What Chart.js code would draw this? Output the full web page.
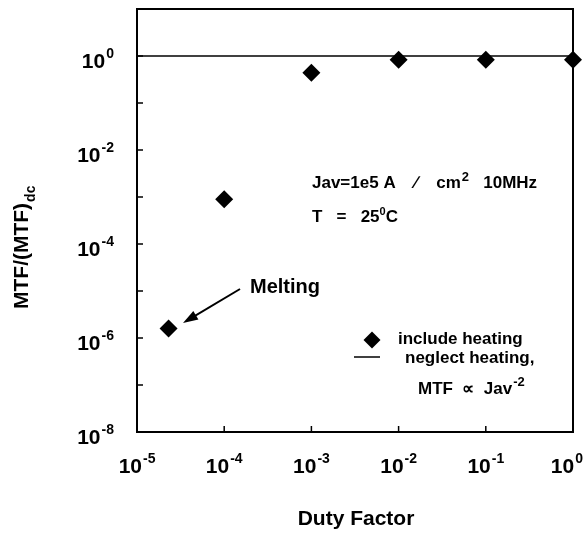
<!DOCTYPE html>
<html>
<head>
<meta charset="utf-8">
<title>MTF vs Duty Factor</title>
<script src="https://cdn.jsdelivr.net/npm/chart.js@4"></script>
<style>
    body { margin: 0; background: #fff; }
    #wrap { width: 585px; height: 536px; }
</style>
</head>
<body>
<div id="wrap"><canvas id="mtfChart" width="585" height="536"></canvas></div>
<script>
// Values
const dutyFactor = [2.3e-5, 1e-4, 1e-3, 1e-2, 1e-1, 1];
const mtfIncludeHeating = [1.6e-6, 9e-4, 0.44, 0.83, 0.83, 0.83];
const neglectDuty = [1e-5, 1];
const mtfNeglectHeating = [1, 1];

// Tick decades
const xTickExps = [-5, -4, -3, -2, -1, 0];
const yTickExps = [1, 0, -1, -2, -3, -4, -5, -6, -7, -8];
const yLabelExps = [0, -2, -4, -6, -8];

const FONT = '"Liberation Sans", Arial, sans-serif';

// Draw text pieces (base + raised/lowered parts), returns end x
function drawPieces(ctx, x, y, pieces) {
    let cx = x;
    pieces.forEach(p => {
        ctx.font = `bold ${p.size}px ${FONT}`;
        ctx.fillText(p.text, cx + (p.dx || 0), y + (p.dy || 0));
        cx += ctx.measureText(p.text).width + (p.dx || 0);
    });
    return cx;
}

function piecesWidth(ctx, pieces) {
    let w = 0;
    pieces.forEach(p => {
        ctx.font = `bold ${p.size}px ${FONT}`;
        w += ctx.measureText(p.text).width + (p.dx || 0);
    });
    return w;
}

function powPieces(exp) {
    return [
        { text: '10', size: 21 },
        { text: String(exp), size: 14, dy: -10, dx: 1 }
    ];
}

function diamond(ctx, x, y, r) {
    ctx.beginPath();
    ctx.moveTo(x, y - r);
    ctx.lineTo(x + r, y);
    ctx.lineTo(x, y + r);
    ctx.lineTo(x - r, y);
    ctx.closePath();
    ctx.fill();
}

// Frame, inward ticks, tick labels, titles and annotations
const decorPlugin = {
    id: 'decor',
    afterDraw(chart) {
        const ctx = chart.ctx;
        const area = chart.chartArea;
        const xs = chart.scales.x;
        const ys = chart.scales.y;
        ctx.save();
        ctx.fillStyle = '#000';
        ctx.strokeStyle = '#000';

        // frame
        ctx.lineWidth = 2;
        ctx.strokeRect(area.left, area.top, area.right - area.left, area.bottom - area.top);

        // inward ticks
        ctx.lineWidth = 1.5;
        ctx.beginPath();
        xTickExps.forEach(e => {
            const px = xs.getPixelForValue(Math.pow(10, e));
            ctx.moveTo(px, area.bottom);
            ctx.lineTo(px, area.bottom - 6);
        });
        yTickExps.forEach(e => {
            const py = ys.getPixelForValue(Math.pow(10, e));
            ctx.moveTo(area.left, py);
            ctx.lineTo(area.left + 6, py);
        });
        ctx.stroke();

        // x tick labels
        ctx.textBaseline = 'alphabetic';
        ctx.textAlign = 'left';
        xTickExps.forEach(e => {
            const px = xs.getPixelForValue(Math.pow(10, e));
            const pcs = powPieces(e);
            const w = piecesWidth(ctx, pcs);
            ctx.font = `bold 21px ${FONT}`;
            const w10 = ctx.measureText('10').width;
            const left = Math.min(px + 5 - w10, 583 - w);
            drawPieces(ctx, left, area.bottom + 41, pcs);
        });

        // y tick labels
        yLabelExps.forEach(e => {
            const py = ys.getPixelForValue(Math.pow(10, e));
            const pcs = powPieces(e);
            const w = piecesWidth(ctx, pcs);
            drawPieces(ctx, 114 - w, py + 12, pcs);
        });

        // x title
        ctx.font = `bold 21px ${FONT}`;
        ctx.textAlign = 'center';
        ctx.fillText('Duty Factor', 356, 525);

        // y title, rotated
        ctx.save();
        ctx.translate(28, 309);
        ctx.rotate(-Math.PI / 2);
        ctx.textAlign = 'left';
        drawPieces(ctx, 0, 0, [
            { text: 'MTF/(MTF)', size: 21 },
            { text: 'dc', size: 14, dy: 7, dx: 1 }
        ]);
        ctx.restore();

        ctx.textAlign = 'left';

        // condition text
        drawPieces(ctx, 312, 188, [
            { text: 'Jav=1e5 A    \u2215    cm', size: 17 },
            { text: '2', size: 13, dy: -7, dx: 1 },
            { text: '   10MHz', size: 17 }
        ]);
        drawPieces(ctx, 312, 222, [
            { text: 'T   =   25', size: 17 },
            { text: '0', size: 11, dy: -7 },
            { text: 'C', size: 17 }
        ]);

        // melting note and arrow
        drawPieces(ctx, 250, 293, [{ text: 'Melting', size: 20 }]);
        const tipX = 183, tipY = 323, tailX = 240, tailY = 289;
        const ang = Math.atan2(tipY - tailY, tipX - tailX);
        ctx.lineWidth = 2;
        ctx.beginPath();
        ctx.moveTo(tailX, tailY);
        ctx.lineTo(tipX - 10 * Math.cos(ang), tipY - 10 * Math.sin(ang));
        ctx.stroke();
        ctx.beginPath();
        ctx.moveTo(tipX, tipY);
        ctx.lineTo(tipX - 15 * Math.cos(ang) + 5 * Math.sin(ang), tipY - 15 * Math.sin(ang) - 5 * Math.cos(ang));
        ctx.lineTo(tipX - 15 * Math.cos(ang) - 5 * Math.sin(ang), tipY - 15 * Math.sin(ang) + 5 * Math.cos(ang));
        ctx.closePath();
        ctx.fill();

        // legend
        diamond(ctx, 372, 340, 8.5);
        drawPieces(ctx, 398, 344, [{ text: 'include heating', size: 17 }]);
        ctx.lineWidth = 1.5;
        ctx.beginPath();
        ctx.moveTo(354, 357);
        ctx.lineTo(380, 357);
        ctx.stroke();
        drawPieces(ctx, 405, 363, [{ text: 'neglect heating,', size: 17 }]);
        drawPieces(ctx, 418, 394, [
            { text: 'MTF  \u221D  Jav', size: 17 },
            { text: '-2', size: 13, dy: -8, dx: 1 }
        ]);

        ctx.restore();
    }
};

function init() {
    const ctx = document.getElementById('mtfChart').getContext('2d');
    new Chart(ctx, {
        type: 'scatter',
        data: {
            datasets: [
                {
                    label: 'neglect heating',
                    data: neglectDuty.map((x, i) => ({ x: x, y: mtfNeglectHeating[i] })),
                    showLine: true,
                    borderColor: '#000',
                    borderWidth: 1.5,
                    pointRadius: 0,
                    clip: false
                },
                {
                    label: 'include heating',
                    data: dutyFactor.map((x, i) => ({ x: x, y: mtfIncludeHeating[i] })),
                    pointStyle: 'rectRot',
                    pointRadius: 9,
                    pointBackgroundColor: '#000',
                    pointBorderColor: '#000',
                    pointBorderWidth: 0,
                    showLine: false,
                    clip: false
                }
            ]
        },
        options: {
            responsive: false,
            animation: false,
            layout: { padding: { left: 137, top: 6, right: 12, bottom: 104 } },
            plugins: {
                legend: { display: false },
                tooltip: { enabled: false }
            },
            scales: {
                x: { type: 'logarithmic', min: 1e-5, max: 1, display: false },
                y: { type: 'logarithmic', min: 1e-8, max: 10, display: false }
            }
        },
        plugins: [decorPlugin]
    });
}

document.addEventListener('DOMContentLoaded', init);
</script>
</body>
</html>
